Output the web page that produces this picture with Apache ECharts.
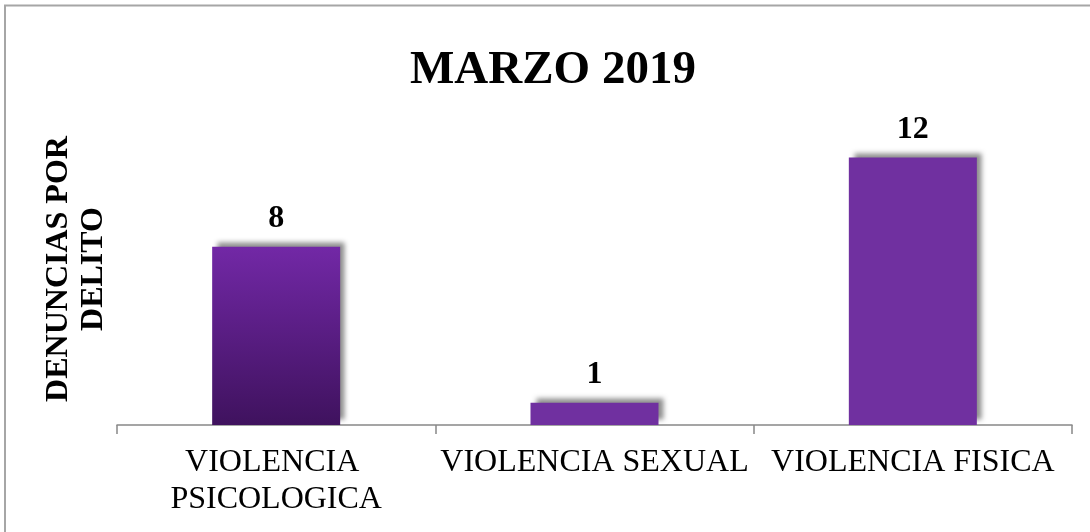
<!DOCTYPE html>
<html>
<head>
<meta charset="utf-8">
<script src="https://cdn.jsdelivr.net/npm/echarts@6/dist/echarts.min.js"></script>
<style>
html,body{margin:0;padding:0;background:#fff;}
#chart{width:1090px;height:532px;}
</style>
</head>
<body>
<div id="chart"></div>
<script>
const categories = ['VIOLENCIA PSICOLOGICA', 'VIOLENCIA SEXUAL', 'VIOLENCIA FISICA'];
const values = [8, 1, 12];
const titleText = 'MARZO 2019';
const yAxisTitle = 'DENUNCIAS POR\nDELITO';

const serif = '"Liberation Serif", "Times New Roman", serif';
const purple = '#7030A0';
const gradient = new echarts.graphic.LinearGradient(0, 0, 0, 1, [
  { offset: 0, color: '#7228a6' },
  { offset: 1, color: '#3f125e' }
]);

const chart = echarts.init(document.getElementById('chart'), null, { renderer: 'canvas' });
chart.setOption({
  backgroundColor: '#fff',
  animation: false,
  title: {
    text: titleText,
    left: 405,
    top: 42,
    textStyle: { fontFamily: serif, fontSize: 47, fontWeight: 'bold', color: '#000' }
  },
  graphic: [{
    type: 'rect',
    shape: { x: 5, y: 5.5, width: 1200, height: 700 },
    style: { fill: 'none', stroke: '#a6a6a6', lineWidth: 2 },
    silent: true
  }],
  grid: { left: 117, right: 18, top: 113, bottom: 107 },
  xAxis: {
    type: 'category',
    data: categories,
    axisLine: { show: true, lineStyle: { color: '#888', width: 1.5 } },
    axisTick: { show: true, length: 9, alignWithLabel: false, lineStyle: { color: '#888', width: 1.5 } },
    axisLabel: {
      interval: 0,
      margin: 19,
      fontFamily: serif,
      fontSize: 32,
      lineHeight: 37,
      color: '#000',
      width: 318,
      overflow: 'break'
    }
  },
  yAxis: {
    type: 'value',
    min: 0,
    max: 14,
    interval: 2,
    name: yAxisTitle,
    nameLocation: 'middle',
    nameRotate: 90,
    nameGap: 6,
    nameTextStyle: { fontFamily: serif, fontSize: 32, fontWeight: 'bold', color: '#000', lineHeight: 35, align: 'center' },
    axisLine: { show: false },
    axisTick: { show: false },
    axisLabel: { show: false },
    splitLine: { show: false }
  },
  series: [{
    type: 'bar',
    data: values.map((v, i) => ({
      value: v,
      itemStyle: { color: i === 0 ? gradient : purple }
    })),
    barWidth: 128,
    itemStyle: {
      shadowColor: 'rgba(0,0,0,0.45)',
      shadowBlur: 5,
      shadowOffsetX: 5,
      shadowOffsetY: -5
    },
    label: {
      show: true,
      position: 'top',
      distance: 12,
      fontFamily: serif,
      fontSize: 32,
      fontWeight: 'bold',
      color: '#000'
    }
  }]
});
</script>
</body>
</html>
